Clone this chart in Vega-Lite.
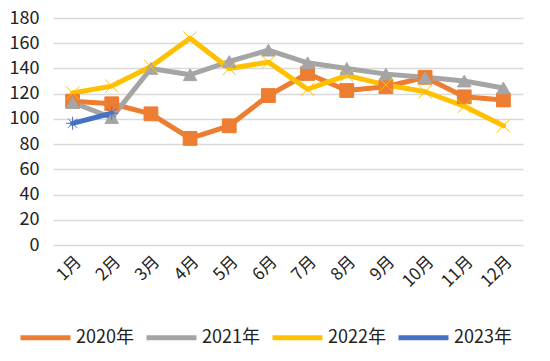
{
  "$schema": "https://vega.github.io/schema/vega-lite/v6.json",
  "autosize": "none",
  "width": 470,
  "height": 227,
  "padding": {"left": 53, "top": 18, "right": 27, "bottom": 116},
  "background": "white",
  "config": {
    "view": {"stroke": null},
    "font": "Noto Sans CJK SC",
    "axis": {"labelFont": "Noto Sans CJK SC", "labelColor": "#222222"},
    "legend": {"labelFont": "Noto Sans CJK SC", "labelColor": "#222222"}
  },
  "data": {
    "values": [
      {"month": "1月", "series": "2020年", "value": 114},
      {"month": "2月", "series": "2020年", "value": 112},
      {"month": "3月", "series": "2020年", "value": 104},
      {"month": "4月", "series": "2020年", "value": 84.5},
      {"month": "5月", "series": "2020年", "value": 94.5},
      {"month": "6月", "series": "2020年", "value": 118.5},
      {"month": "7月", "series": "2020年", "value": 136},
      {"month": "8月", "series": "2020年", "value": 122.5},
      {"month": "9月", "series": "2020年", "value": 125.5},
      {"month": "10月", "series": "2020年", "value": 133},
      {"month": "11月", "series": "2020年", "value": 117.5},
      {"month": "12月", "series": "2020年", "value": 115},
      {"month": "1月", "series": "2021年", "value": 113},
      {"month": "2月", "series": "2021年", "value": 101},
      {"month": "3月", "series": "2021年", "value": 140},
      {"month": "4月", "series": "2021年", "value": 135},
      {"month": "5月", "series": "2021年", "value": 145.5},
      {"month": "6月", "series": "2021年", "value": 154.5},
      {"month": "7月", "series": "2021年", "value": 144.5},
      {"month": "8月", "series": "2021年", "value": 140},
      {"month": "9月", "series": "2021年", "value": 135.5},
      {"month": "10月", "series": "2021年", "value": 133},
      {"month": "11月", "series": "2021年", "value": 130},
      {"month": "12月", "series": "2021年", "value": 124.5},
      {"month": "1月", "series": "2022年", "value": 120.5},
      {"month": "2月", "series": "2022年", "value": 126},
      {"month": "3月", "series": "2022年", "value": 141.5},
      {"month": "4月", "series": "2022年", "value": 164},
      {"month": "5月", "series": "2022年", "value": 140},
      {"month": "6月", "series": "2022年", "value": 145},
      {"month": "7月", "series": "2022年", "value": 123.5},
      {"month": "8月", "series": "2022年", "value": 134.5},
      {"month": "9月", "series": "2022年", "value": 127},
      {"month": "10月", "series": "2022年", "value": 121.5},
      {"month": "11月", "series": "2022年", "value": 110},
      {"month": "12月", "series": "2022年", "value": 94.5},
      {"month": "1月", "series": "2023年", "value": 96.5},
      {"month": "2月", "series": "2023年", "value": 104.5}
    ]
  },
  "encoding": {
    "x": {
      "field": "month",
      "type": "nominal",
      "sort": ["1月","2月","3月","4月","5月","6月","7月","8月","9月","10月","11月","12月"],
      "scale": {"type": "point", "padding": 0.5},
      "axis": {"title": null, "labelAngle": -45, "labelFontSize": 17, "domain": false, "ticks": false, "labelPadding": 8, "grid": false}
    },
    "y": {
      "field": "value",
      "type": "quantitative",
      "scale": {"domain": [0, 180], "nice": false},
      "axis": {"title": null, "values": [0,20,40,60,80,100,120,140,160,180], "labelFontSize": 18, "domain": false, "ticks": false, "labelPadding": 14, "gridColor": "#D9D9D9", "gridWidth": 1.5}
    }
  },
  "resolve": {
    "scale": {"strokeWidth": "independent", "size": "independent", "shape": "independent"},
    "legend": {"shape": "independent", "fill": "independent", "stroke": "independent", "strokeWidth": "independent", "size": "independent"}
  },
  "layer": [
    {
      "mark": {"type": "line", "strokeJoin": "round", "strokeCap": "round"},
      "encoding": {
        "color": {
          "field": "series",
          "type": "nominal",
          "scale": {"domain": ["2020年","2021年","2022年","2023年"], "range": ["#ED7D31","#A5A5A5","#FFC000","#4472C4"]},
          "legend": {
            "title": null,
            "orient": "none",
            "direction": "horizontal",
            "legendX": -35,
            "legendY": 292,
            "symbolType": "stroke",
            "symbolSize": 2500,
            "symbolStrokeWidth": 5,
            "labelFontSize": 18,
            "labelOffset": 3,
            "columnPadding": 2
          }
        },
        "strokeWidth": {
          "field": "series",
          "type": "nominal",
          "scale": {"domain": ["2020年","2021年","2022年","2023年"], "range": [5, 5, 5.5, 3]},
          "legend": null
        }
      }
    },
    {
      "mark": {"type": "point", "filled": false, "opacity": 1},
      "encoding": {
        "fill": {
          "field": "series",
          "type": "nominal",
          "scale": {"domain": ["2020年","2021年","2022年","2023年"], "range": ["#ED7D31","#A5A5A5","#FFC000","#4472C4"]},
          "legend": null
        },
        "stroke": {
          "field": "series",
          "type": "nominal",
          "scale": {"domain": ["2020年","2021年","2022年","2023年"], "range": ["#ED7D31","#A5A5A5","#FFC000","#4472C4"]},
          "legend": null
        },
        "shape": {
          "field": "series",
          "type": "nominal",
          "scale": {"domain": ["2020年","2021年","2022年","2023年"], "range": ["square", "triangle-up", "M-1,-1L1,1M-1,1L1,-1", "M-1,0L1,0M0,-1L0,1M-0.7,-0.7L0.7,0.7M-0.7,0.7L0.7,-0.7"]},
          "legend": null
        },
        "size": {
          "field": "series",
          "type": "nominal",
          "scale": {"domain": ["2020年","2021年","2022年","2023年"], "range": [190, 170, 400, 200]},
          "legend": null
        },
        "strokeWidth": {
          "field": "series",
          "type": "nominal",
          "scale": {"domain": ["2020年","2021年","2022年","2023年"], "range": [1, 1, 1.2, 1]},
          "legend": null
        }
      }
    }
  ]
}
